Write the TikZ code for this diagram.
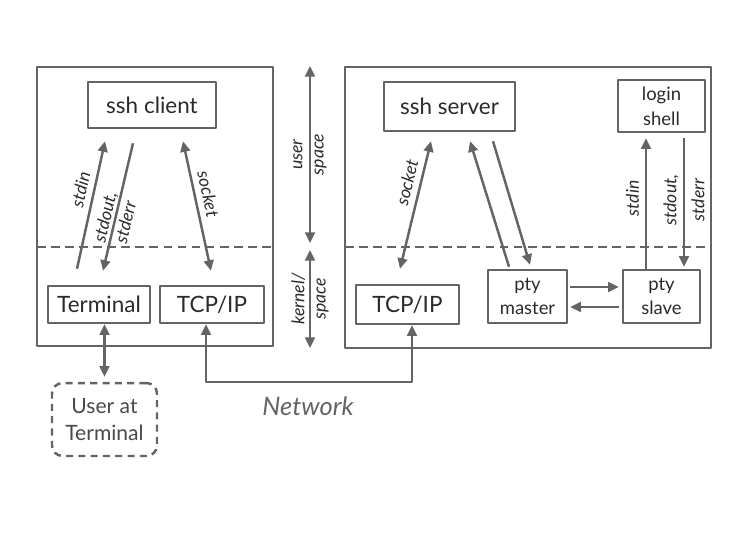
\documentclass[tikz,border=0pt]{standalone}
\usepackage{fontspec}
\setmainfont{Lato}
\usetikzlibrary{arrows.meta,calc}
\definecolor{linegray}{HTML}{646464}
\definecolor{textgray}{HTML}{2A2A2A}
\begin{document}
\begin{tikzpicture}[x=0.02cm, y=-0.02cm, >={Triangle[length=6pt,width=5.5pt]},
    line width=1.4pt, line join=round,
    box/.style={draw=linegray, line width=1.4pt, inner sep=0pt, text=textgray, align=center, font=\fontsize{12.8}{14}\selectfont},
    smallbox/.style={box, font=\fontsize{10.5}{14}\selectfont},
    arr/.style={draw=linegray, ->},
    lbl/.style={text=textgray, font=\fontsize{10}{12}\selectfont\itshape, align=center}]
  \useasboundingbox (0,0) rectangle (750,559);
  % outer frames
  \draw[linegray] (37,67) rectangle (273,346);
  \draw[linegray] (345,67) rectangle (711,348);
  \draw[linegray, dash pattern=on 5pt off 3pt] (37,247) -- (273,247);
  \draw[linegray, dash pattern=on 5pt off 3pt] (345,247) -- (711,247);
  % client side
  \node[box, minimum width=2.56cm, minimum height=0.92cm] (client) at (152,105) {ssh client};
  \node[box, minimum width=2.04cm, minimum height=0.74cm] (term) at (99,304.5) {Terminal};
  \node[box, minimum width=2.08cm, minimum height=0.74cm] (tcpl) at (212,304.5) {TCP/IP};
  \node[box, draw, dashed, dash pattern=on 4pt off 3pt, rounded corners=6pt, text=textgray!85, minimum width=2.10cm, minimum height=1.46cm, font=\fontsize{12}{15}\selectfont] (user) at (104.5,419.5) {User at\\Terminal};
  % server side
  \node[box, minimum width=2.62cm, minimum height=0.98cm] (server) at (449.5,106.5) {ssh server};
  \node[smallbox, minimum width=1.74cm, minimum height=1.04cm] (shell) at (661.5,106) {login\\shell};
  \node[box, minimum width=2.06cm, minimum height=0.78cm] (tcpr) at (407.5,304.5) {TCP/IP};
  \node[smallbox, minimum width=1.58cm, minimum height=1.06cm] (master) at (527.5,296.5) {pty\\master};
  \node[smallbox, minimum width=1.54cm, minimum height=1.06cm] (slave) at (661.5,296.5) {pty\\slave};
  % client arrows
  \draw[arr] ($(term.north)+(-22,-16)$) -- node[lbl, sloped, above, pos=.6] {stdin} ($(client.south)+(-47,12)$);
  \draw[arr] ($(client.south)+(-19,14)$) -- node[lbl, sloped, pos=.6] {stdout,\\stderr} ($(term.north)+(4,-14)$);
  \draw[arr, <->] ($(client.south)+(31,12)$) -- node[lbl, sloped, above, pos=.43] {socket} ($(tcpl.north)+(-1,-14)$);
  % server arrows
  \draw[arr, <->] ($(server.south)+(-18.5,9)$) -- node[lbl, sloped, above, pos=.35] {socket} ($(tcpr.north)+(-7.5,-15)$);
  \draw[arr] ($(master.north)+(-18.5,-2)$) -- ($(server.south)+(20.5,9)$);
  \draw[arr] ($(server.south)+(43.5,9)$) -- ($(master.north)+(2.5,-4)$);
  \draw[arr] ($(master.east)+(2,-9.5)$) -- ($(slave.west)+(-3,-9.5)$);
  \draw[arr] ($(slave.west)+(-3,10.5)$) -- ($(master.east)+(2,10.5)$);
  \draw[arr] ($(slave.north)+(-15.5,0)$) -- node[lbl, rotate=90, above, pos=.54] {stdin} ($(shell.south)+(-15.5,5)$);
  \draw[arr] ($(shell.south)+(22.5,5)$) -- node[lbl, rotate=90, pos=.48] {stdout,\\[4pt]stderr} ($(slave.north)+(22.5,-2)$);
  % terminal user and network
  \draw[arr, <->] ($(user.north)+(0,-5)$) -- (user.north |- term.south);
  \draw[arr, <->] ($(tcpl.south)+(-6,0)$) -- ++(0,58) -| ($(tcpr.south)+(4.5,0)$);
  \node[text=linegray, font=\fontsize{14.5}{16}\selectfont\itshape] (net) at (308,406) {Network};
  % user / kernel space
  \coordinate (ustop) at (310,66);
  \coordinate (usbot) at (310,243);
  \coordinate (kstop) at (310,250);
  \coordinate (ksbot) at (310,348);
  \draw[arr, <->] (ustop) -- node[lbl, rotate=90] {user\\space} (usbot);
  \draw[arr, <->] (kstop) -- node[lbl, rotate=90] {kernel/\\space} (ksbot);
\end{tikzpicture}
\end{document}
